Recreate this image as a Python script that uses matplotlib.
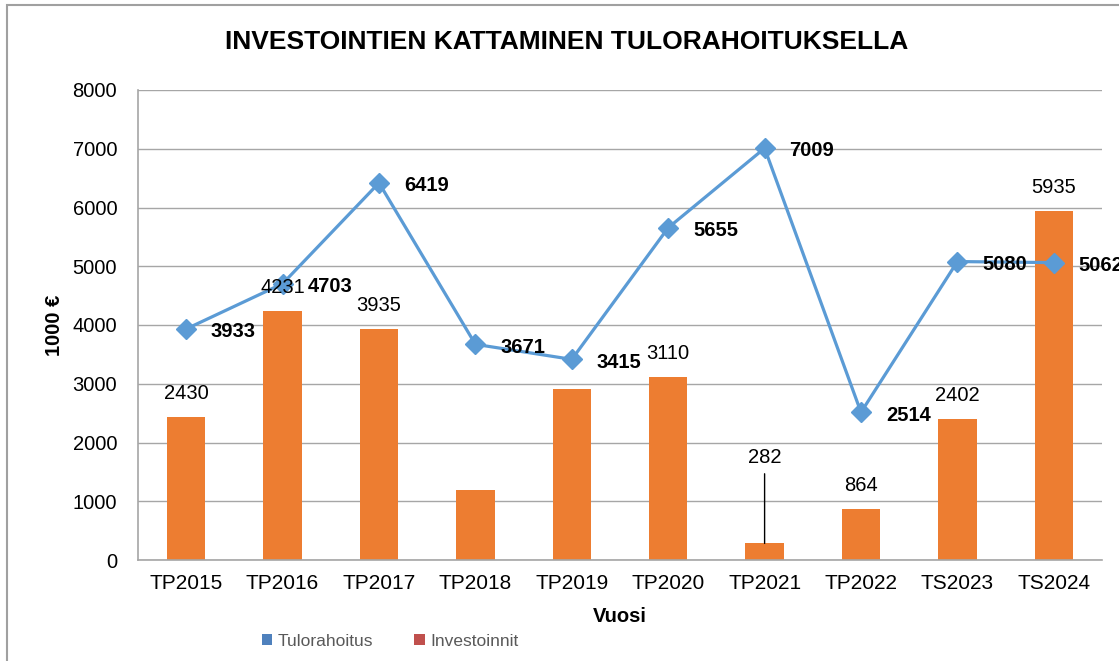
import matplotlib
matplotlib.use("Agg")
import matplotlib.pyplot as plt
from matplotlib.patches import Patch, Rectangle

plt.rcParams['font.family'] = ['Liberation Sans', 'DejaVu Sans']

# data
vuodet = ['TP2015', 'TP2016', 'TP2017', 'TP2018', 'TP2019',
          'TP2020', 'TP2021', 'TP2022', 'TS2023', 'TS2024']
investoinnit = [2430, 4231, 3935, 1190, 2910, 3110, 282, 864, 2402, 5935]
investoinnit_labels = ['2430', '4231', '3935', None, None,
                       '3110', '282', '864', '2402', '5935']
tulorahoitus = [3933, 4703, 6419, 3671, 3415, 5655, 7009, 2514, 5080, 5062]

W, H = 1119, 661
fig = plt.figure(figsize=(W / 100, H / 100), dpi=100)
ax = fig.add_axes([138 / W, 1 - 560 / H, (1102 - 138) / W, (560 - 90) / H])

x = list(range(len(vuodet)))
ax.bar(x, investoinnit, width=0.4, color='#ED7D31', zorder=2)
ax.plot(x, tulorahoitus, color='#5B9BD5', lw=2.3, marker='D', markersize=10,
        zorder=3)

ax.set_xlim(-0.5, len(vuodet) - 0.5)
ax.set_ylim(0, 8000)
ax.set_yticks(range(0, 8001, 1000))
ax.set_xticks(x)
ax.set_xticklabels(vuodet)
ax.tick_params(axis='y', length=0, pad=15, labelsize=14.5)
ax.tick_params(axis='x', length=0, pad=10, labelsize=15)
ax.grid(axis='y', color='#A6A6A6', lw=1, zorder=0)
for s in ['top', 'right']:
    ax.spines[s].set_visible(False)
for s in ['left', 'bottom']:
    ax.spines[s].set_color('#A6A6A6')
    ax.spines[s].set_linewidth(1.2)

# bar labels
for i, (v, lab) in enumerate(zip(investoinnit, investoinnit_labels)):
    if lab is None:
        continue
    if lab == '282':
        ax.annotate(lab, xy=(i, v), xytext=(0, 62), textcoords='offset points',
                    ha='center', va='center', fontsize=14.5,
                    arrowprops=dict(arrowstyle='-', color='black', lw=1,
                                    shrinkA=3, shrinkB=0))
    else:
        ax.annotate(lab, xy=(i, v), xytext=(0, 17), textcoords='offset points',
                    ha='center', va='center', fontsize=14.5, zorder=4)

# line labels
for i, v in enumerate(tulorahoitus):
    ax.annotate(str(v), xy=(i, v), xytext=(34, -2), textcoords='offset points',
                ha='center', va='center', fontsize=14.5, fontweight='bold',
                zorder=5)

fig.text(567 / W, 1 - 42 / H, 'INVESTOINTIEN KATTAMINEN TULORAHOITUKSELLA',
         ha='center', va='center', fontsize=19, fontweight='bold')
fig.text(620 / W, 1 - 617 / H, 'Vuosi', ha='center', va='center',
         fontsize=14.5, fontweight='bold')
fig.text(55 / W, 1 - 325 / H, '1000 €', ha='center', va='center',
         rotation=90, fontsize=14.5, fontweight='bold')

handles = [Patch(facecolor='#4F81BD', label='Tulorahoitus'),
           Patch(facecolor='#C0504D', label='Investoinnit')]
fig.legend(handles=handles, loc='center', bbox_to_anchor=(390 / W, 1 - 641 / H),
           ncol=2, frameon=False, handlelength=0.6, handleheight=0.6,
           handletextpad=0.3, columnspacing=2.4,
           prop={'size': 12.5}, labelcolor='#595959')

# outer chart frame
fig.add_artist(Rectangle((7 / W, -0.1), 1.2, 1 - 5 / H + 0.1,
                         transform=fig.transFigure, fill=False,
                         edgecolor='#A0A0A0', lw=1.5, clip_on=False))

fig.savefig('out.png', dpi=100)
